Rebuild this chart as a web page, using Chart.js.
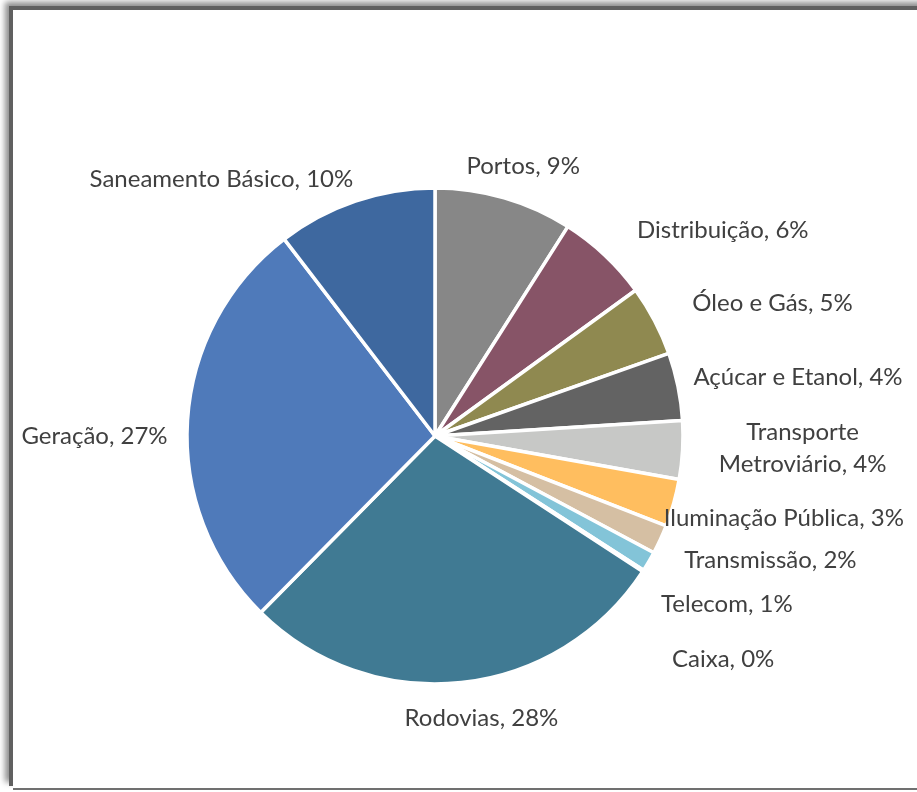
<!DOCTYPE html>
<html>
<head>
<meta charset="utf-8">
<script src="https://cdn.jsdelivr.net/npm/chart.js@4.4.1/dist/chart.umd.min.js"></script>
<style>
  html, body { margin: 0; padding: 0; background: #ffffff; overflow: hidden; }
  #frame {
    position: absolute; left: 13px; top: 10px; width: 1000px; height: 778px;
    background: #ffffff;
    border-bottom: 2px solid #707070;
    box-shadow: -4px -4px 0 #606060, -8px -8px 6px rgba(0,0,0,0.45);
  }
  #wrap { position: absolute; left: 0; top: 0; width: 917px; height: 792px; }
</style>
</head>
<body>
<div id="frame"></div>
<div id="wrap"><canvas id="c" width="917" height="792"></canvas></div>
<script>
const categories = ['Portos', 'Distribuição', 'Óleo e Gás', 'Açúcar e Etanol', 'Transporte Metroviário',
  'Iluminação Pública', 'Transmissão', 'Telecom', 'Caixa', 'Rodovias', 'Geração', 'Saneamento Básico'];
const shares = [9.0, 6.0, 4.6, 4.4, 3.8, 3.1, 1.9, 1.3, 0.1, 28.2, 27.2, 10.4];
const sliceColors = ['#878787', '#875467', '#8f8950', '#636363', '#c7c8c6',
  '#ffbe5f', '#d5bfa3', '#83c4d8', '#a5a5a5', '#407a93', '#4f7aba', '#3e689f'];
// label line breaks
const labelLines = [null, null, null, null, ['Transporte', 'Metroviário'], null, null, null, null, null, null, null];
// label offsets from each slice's outer mid point (pixels)
const labelOffsets = [[19,-32],[118,-25],[118,-17],[120,-9],[120,-2],[110,15],[110,21],[78,43],[80,88],[20,36],[-93,16],[-134,-22]];

const labelPlugin = {
  id: 'outLabels',
  afterDatasetsDraw(chart) {
    const ctx = chart.ctx;
    const meta = chart.getDatasetMeta(0);
    const data = chart.data.datasets[0].data;
    const total = data.reduce((a, b) => a + b, 0);
    ctx.save();
    ctx.fillStyle = '#404040';
    ctx.font = '24px Lato';
    ctx.textAlign = 'center';
    ctx.textBaseline = 'middle';
    meta.data.forEach((arc, i) => {
      const p = arc.getProps(['x', 'y', 'startAngle', 'endAngle', 'outerRadius'], true);
      const mid = (p.startAngle + p.endAngle) / 2;
      const ax = p.x + Math.cos(mid) * p.outerRadius;
      const ay = p.y + Math.sin(mid) * p.outerRadius;
      const lx = ax + labelOffsets[i][0];
      const ly = ay + labelOffsets[i][1];
      const pct = Math.round(data[i] / total * 100) + '%';
      if (labelLines[i]) {
        ctx.fillText(labelLines[i][0], lx, ly - 16);
        ctx.fillText(labelLines[i][1] + ', ' + pct, lx, ly + 16);
      } else {
        ctx.fillText(categories[i] + ', ' + pct, lx, ly);
      }
    });
    ctx.restore();
  }
};

new Chart(document.getElementById('c'), {
  type: 'pie',
  data: {
    labels: categories,
    datasets: [{
      data: shares,
      backgroundColor: sliceColors,
      borderColor: '#ffffff',
      borderWidth: 3.5
    }]
  },
  options: {
    responsive: false,
    animation: false,
    radius: 248,
    layout: { padding: { left: 185, right: 232, top: 186, bottom: 106 } },
    plugins: { legend: { display: false }, tooltip: { enabled: false } }
  },
  plugins: [labelPlugin]
});
</script>
</body>
</html>
